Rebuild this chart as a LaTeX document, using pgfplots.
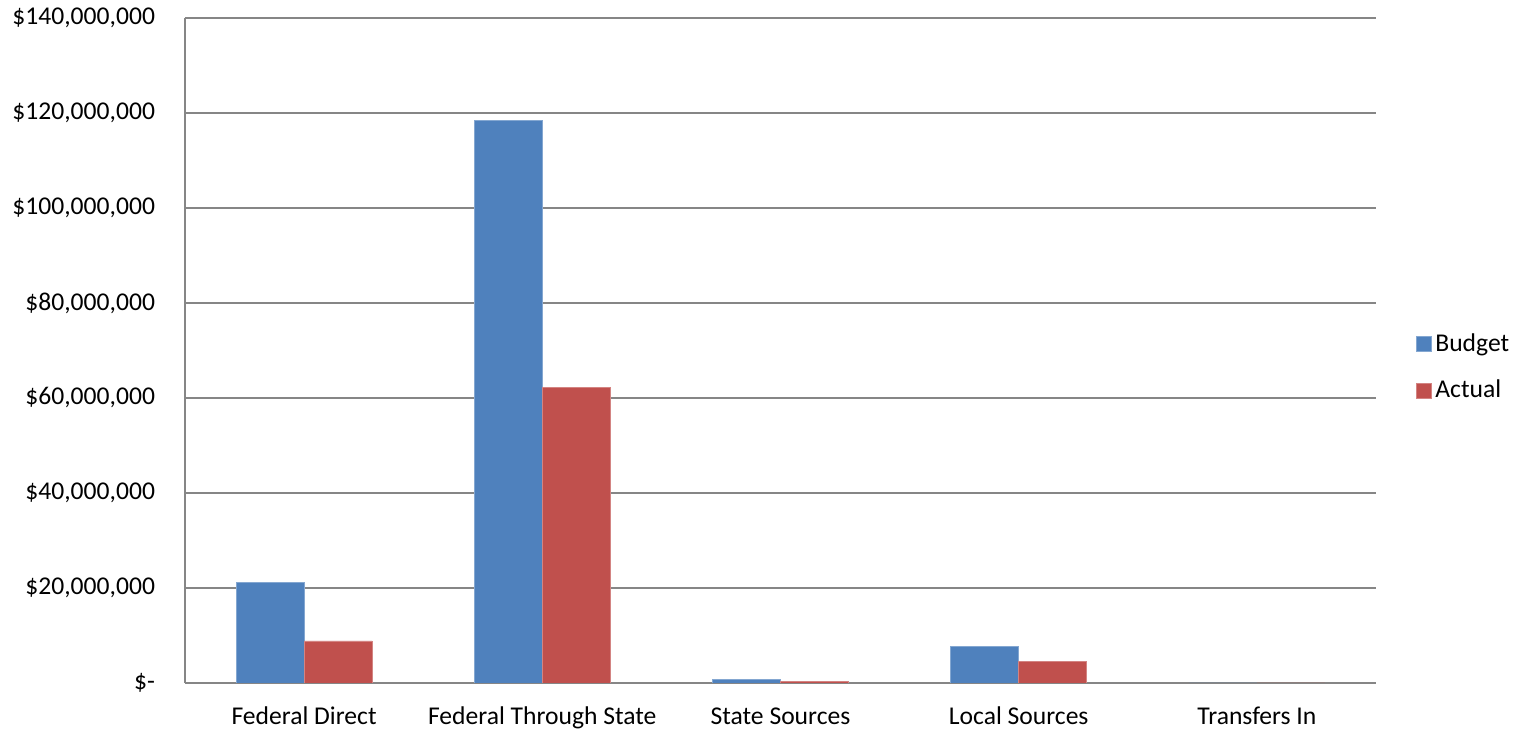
\documentclass[border=0pt]{standalone}
\usepackage{fontspec}
\setmainfont{Carlito}
\usepackage{pgfplots}
\pgfplotsset{compat=1.18}

\definecolor{budget}{HTML}{4F81BD}
\definecolor{actual}{HTML}{C0504D}
\definecolor{gridgray}{HTML}{868686}

\newcommand{\lbl}{\fontsize{12.8pt}{14pt}\selectfont}

\begin{document}
\begin{tikzpicture}
\useasboundingbox (-92.5pt,-24.5pt) rectangle (667.5pt,341.5pt);
\begin{axis}[
    at={(0,0)}, anchor=south west,
    scale only axis,
    width=595.5pt,
    height=332.5pt,
    ybar=0pt,
    bar width=34pt,
    xmin=-0.5, xmax=4.5,
    ymin=0, ymax=140000000,
    xtick=data,
    xticklabels={Federal Direct, Federal Through State, State Sources, Local Sources, Transfers In},
    ytick={0,20000000,40000000,60000000,80000000,100000000,120000000,140000000},
    yticklabels={{\$-}, {\$20,000,000}, {\$40,000,000}, {\$60,000,000}, {\$80,000,000}, {\$100,000,000}, {\$120,000,000}, {\$140,000,000}},
    major tick length=0pt,
    axis x line*=bottom,
    axis y line*=left,
    axis line style={gridgray, line width=1pt, -},
    ymajorgrids=true,
    grid style={gridgray, line width=0.8pt},
    yticklabel style={font=\lbl, xshift=-11.5pt},
    xticklabel style={font=\lbl, text height=9pt, text depth=3pt, yshift=-8pt},
    legend style={draw=none, fill=none, at={(1.028,0.475)}, anchor=west,
        font=\lbl, row sep=9pt},
    legend cell align=left,
    legend image code/.code={\fill[#1] (0pt,-3.7pt) rectangle (7.4pt,3.7pt);},
]
\addplot[fill=budget, draw=budget!70!white, line width=0.4pt] coordinates {(0,21100000) (1,118500000) (2,780000) (3,7700000) (4,0)};
\addplot[fill=actual, draw=actual!70!white, line width=0.4pt] coordinates {(0,8850000) (1,62250000) (2,420000) (3,4570000) (4,0)};
\legend{Budget, Actual}
\end{axis}
\end{tikzpicture}
\end{document}
